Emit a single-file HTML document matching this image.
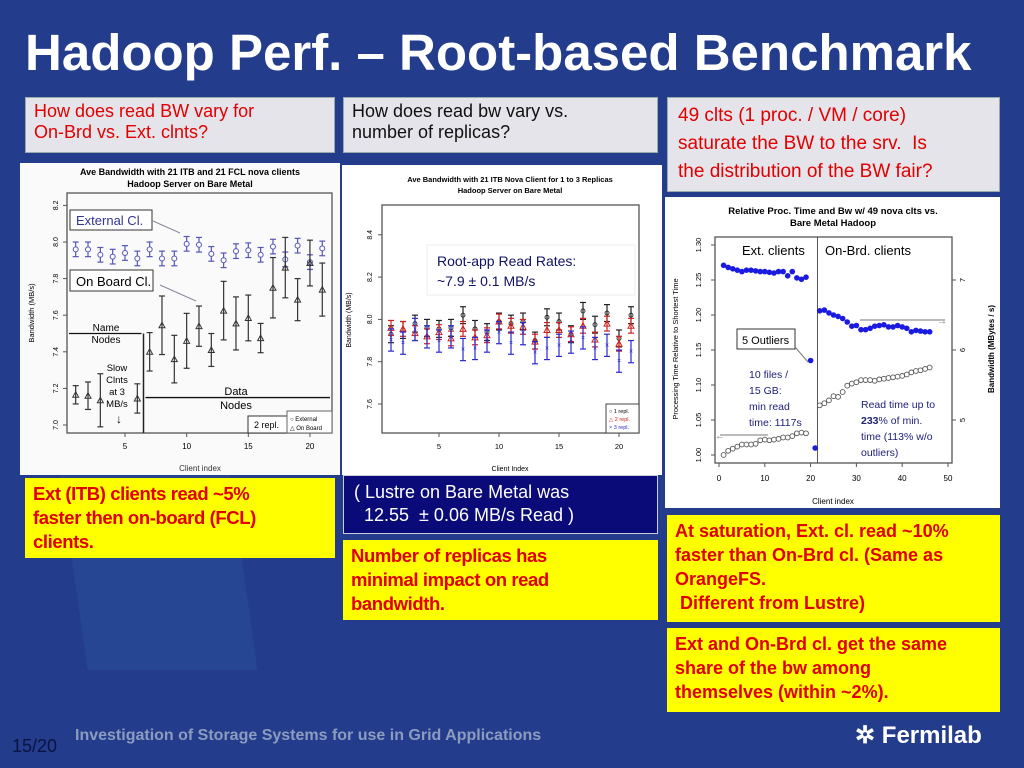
<!DOCTYPE html>
<html><head><meta charset="utf-8">
<style>
*{box-sizing:border-box;margin:0;padding:0}
body{width:1024px;height:768px;overflow:hidden;background:#243c8c;font-family:"Liberation Sans",sans-serif;position:relative}
.abs{position:absolute}
.q{background:#e4e4ea;border:1px solid #9aa;font-size:18px;line-height:21px;padding:3px 8px}
.y{background:#ffff00;color:#e00000;font-weight:bold;font-size:18px;line-height:24px;padding:4px 8px;white-space:nowrap}
.n{letter-spacing:-0.4px;font-size:18.5px}
svg text{font-family:"Liberation Sans",sans-serif}
</style></head><body>
<div class="abs" style="left:70px;top:420px;width:170px;height:250px;background:#2a55a0;opacity:.35;transform:skewX(8deg)"></div>
<div class="abs" style="left:25px;top:24px;color:#fff;font-weight:bold;font-size:51px;line-height:58px;white-space:nowrap">Hadoop Perf. – Root-based Benchmark</div>
<div class="abs q" style="left:25px;top:97px;width:310px;height:56px;color:#e00000">How does read BW vary for<br>On-Brd vs. Ext. clnts?</div>
<div class="abs q" style="left:343px;top:97px;width:315px;height:56px;color:#111">How does read bw vary vs.<br>number of replicas?</div>
<div class="abs q" style="left:667px;top:97px;width:333px;height:95px;color:#e00000;font-size:19px;line-height:28px;padding:4px 10px;white-space:nowrap">49 clts (1 proc. / VM / core)<br>saturate the BW to the srv.&nbsp; Is<br>the distribution of the BW fair?</div>

<svg class="abs" id="c1" style="left:20px;top:163px" width="320" height="312"></svg>
<svg class="abs" id="c2" style="left:342px;top:165px" width="320" height="310"></svg>
<svg class="abs" id="c3" style="left:665px;top:197px" width="335" height="311"></svg>

<div class="abs y n" style="left:25px;top:478px;width:310px;height:80px">Ext (ITB) clients read ~5%<br>faster then on-board (FCL)<br>clients.</div>
<div class="abs" style="left:343px;top:475px;width:315px;height:59px;background:#0a0a78;border:1px solid #ccd;color:#fff;font-size:18px;line-height:23px;padding:5px 10px">( Lustre on Bare Metal was<br>&nbsp;&nbsp;12.55 &nbsp;± 0.06 MB/s Read )</div>
<div class="abs y n" style="left:343px;top:540px;width:315px;height:80px">Number of replicas has<br>minimal impact on read<br>bandwidth.</div>
<div class="abs y" style="left:667px;top:515px;width:333px;height:107px;font-size:18px">At saturation, Ext. cl. read ~10%<br>faster than On-Brd cl. (Same as<br>OrangeFS.<br>&nbsp;Different from Lustre)</div>
<div class="abs y" style="left:667px;top:628px;width:333px;height:84px;font-size:18px">Ext and On-Brd cl. get the same<br>share of the bw among<br>themselves (within ~2%).</div>

<div class="abs" style="left:12px;top:736px;color:#0a1440;font-size:18px">15/20</div>
<div class="abs" style="left:75px;top:727px;color:#8c9cc0;font-weight:bold;font-size:16px">Investigation of Storage Systems for use in Grid Applications</div>
<div class="abs" style="left:855px;top:721px;color:#fff;font-weight:bold;font-size:24px">✲ Fermilab</div>

<script>
const NS="http://www.w3.org/2000/svg";
function mk(p,t,a,txt){const e=document.createElementNS(NS,t);for(const k in a)e.setAttribute(k,a[k]);if(txt!==undefined)e.textContent=txt;p.appendChild(e);return e;}

/* ---------- Chart 1 data ---------- */
const c1Clients=[1,2,3,4,5,6,7,8,9,10,11,12,13,14,15,16,17,18,19,20,21];
const c1External=[7.96,7.96,7.93,7.92,7.94,7.91,7.96,7.91,7.91,7.99,7.985,7.935,7.90,7.95,7.955,7.93,7.975,7.905,7.98,7.89,7.965];
const c1OnBoard=[7.165,7.16,7.135,null,null,7.145,7.40,7.545,7.36,7.46,7.54,7.41,7.625,7.555,7.585,7.475,7.75,7.86,7.685,7.885,7.74];
const c1OnBoardErr=[0.05,0.075,0.145,0,0,0.08,0.105,0.16,0.13,0.15,0.11,0.09,0.16,0.145,0.125,0.08,0.165,0.165,0.115,0.125,0.145];
const c1YTicks=[7.0,7.2,7.4,7.6,7.8,8.0,8.2];
const c1XTicks=[5,10,15,20];

/* ---------- Chart 2 data ---------- */
const c2Clients=[1,2,3,4,5,6,7,8,9,10,11,12,13,14,15,16,17,18,19,20,21];
const c2Repl1=[7.93,7.95,7.98,7.96,7.955,7.96,8.02,7.955,7.94,7.99,7.98,7.99,7.90,8.01,7.99,7.93,8.04,7.975,8.03,7.91,8.02];
const c2Repl2=[7.96,7.955,7.935,7.92,7.94,7.91,7.955,7.915,7.925,7.99,7.97,7.965,7.895,7.95,7.95,7.93,7.97,7.905,7.98,7.885,7.97];
const c2Repl3=[7.905,7.89,7.955,7.92,7.90,7.92,7.86,7.865,7.90,7.94,7.89,7.935,7.845,7.865,7.88,7.895,7.915,7.865,7.88,7.805,7.85];
const c2YTicks=[7.6,7.8,8.0,8.2,8.4];
const c2XTicks=[5,10,15,20];

/* ---------- Chart 3 data ---------- */
const c3ClientsA=[1,2,3,4,5,6,7,8,9,10,11,12,13,14,15,16,17,18,19];
const c3TimeA=[1.000,1.006,1.009,1.012,1.015,1.015,1.015,1.016,1.021,1.022,1.021,1.022,1.023,1.025,1.025,1.027,1.031,1.032,1.031];
const c3ClientsB=[22,23,24,25,26,27,28,29,30,31,32,33,34,35,36,37,38,39,40,41,42,43,44,45,46];
const c3TimeB=[1.071,1.074,1.078,1.084,1.083,1.090,1.099,1.102,1.104,1.107,1.107,1.107,1.106,1.108,1.109,1.110,1.111,1.112,1.113,1.115,1.118,1.120,1.121,1.123,1.125];
const c3BwClients=[1,2,3,4,5,6,7,8,9,10,11,12,13,14,15,16,17,18,19,20,21,22,23,24,25,26,27,28,29,30,31,32,33,34,35,36,37,38,39,40,41,42,43,44,45,46];
const c3Bw=[7.21,7.18,7.16,7.14,7.12,7.14,7.14,7.13,7.12,7.12,7.11,7.10,7.12,7.12,7.06,7.12,7.03,7.01,7.04,5.85,4.60,6.56,6.57,6.53,6.50,6.48,6.45,6.40,6.34,6.35,6.29,6.29,6.31,6.34,6.35,6.36,6.33,6.33,6.35,6.33,6.31,6.26,6.28,6.27,6.26,6.26];
const c3YTicks=[1.00,1.05,1.10,1.15,1.20,1.25,1.30];
const c3BwTicks=[5,6,7];
const c3XTicks=[0,10,20,30,40,50];

function frame(s,x0,y0,x1,y1,bg){mk(s,'rect',{x:0,y:0,width:s.getAttribute('width'),height:s.getAttribute('height'),fill:bg||'#fff'});
 const r=mk(s,'rect',{x:x0,y:y0,width:x1-x0,height:y1-y0,fill:'none',stroke:'#555','stroke-width':1.3});}
function tri(s,x,y,c){return mk(s,'path',{d:`M${x-3},${y+2.5}L${x},${y-3}L${x+3},${y+2.5}Z`,fill:'none',stroke:c,'stroke-width':1});}
function errbar(s,x,lo,hi,c,w){mk(s,'line',{x1:x,x2:x,y1:lo,y2:hi,stroke:c,'stroke-width':1.2});mk(s,'line',{x1:x-w,x2:x+w,y1:lo,y2:lo,stroke:c,'stroke-width':1.2});mk(s,'line',{x1:x-w,x2:x+w,y1:hi,y2:hi,stroke:c,'stroke-width':1.2});}

/* Chart 1 */
(function(){const s=document.getElementById('c1');
const X=v=>125+(v-5)*12.33, Y=v=>425-(v-7.0)*183;
frame(s,47,30,312,270,'#fafafa');
mk(s,'text',{x:170,y:12,'font-size':9,'font-weight':'bold','text-anchor':'middle'},'Ave Bandwidth with 21 ITB and 21 FCL nova clients');
mk(s,'text',{x:170,y:24,'font-size':9,'font-weight':'bold','text-anchor':'middle'},'Hadoop Server on Bare Metal');
c1YTicks.forEach(t=>{const y=Y(t)-163;const l=mk(s,'line',{x1:43,x2:47,y1:y,y2:y,stroke:'#555'});
 const tx=mk(s,'text',{x:38,y:y,'font-size':7,'text-anchor':'middle',transform:`rotate(-90 38 ${y})`},t.toFixed(1));});
c1XTicks.forEach(t=>{const x=X(t)-20;mk(s,'line',{x1:x,x2:x,y1:270,y2:274,stroke:'#555'});const tx=mk(s,'text',{x:x,y:286,'font-size':8,'text-anchor':'middle'},t);});
const xl=mk(s,'text',{x:180,y:308,'font-size':8,'text-anchor':'middle',fill:'#333'},'Client index');
const yl=mk(s,'text',{x:14,y:150,'font-size':7.5,'text-anchor':'middle',transform:'rotate(-90 14 150)'},'Bandwidth (MB/s)');
c1Clients.forEach((c,i)=>{const x=X(c)-20;
 const v=c1External[i];errbar(s,x,Y(v-0.04)-163,Y(v+0.04)-163,'#5555bb',3);
 const p=mk(s,'circle',{cx:x,cy:Y(v)-163,r:2.5,fill:'#fafafa',stroke:'#5555bb','stroke-width':1});
 const o=c1OnBoard[i];if(o!==null){const e=c1OnBoardErr[i];errbar(s,x,Y(o-e)-163,Y(o+e)-163,'#333',3);const t=tri(s,x,Y(o)-163,'#333');}});
mk(s,'line',{x1:(X(6.5)-20),x2:(X(6.5)-20),y1:Y(7.5)-163,y2:270,stroke:'#222','stroke-width':1.5});
mk(s,'line',{x1:49,x2:X(6.5)-22,y1:Y(7.5)-163,y2:Y(7.5)-163,stroke:'#111','stroke-width':1.3});
mk(s,'line',{x1:X(6.5)-18,x2:310,y1:Y(7.15)-163,y2:Y(7.15)-163,stroke:'#111','stroke-width':1.3});
mk(s,'rect',{x:50,y:47,width:82,height:20,fill:'#fff',stroke:'#333'});mk(s,'text',{x:56,y:62,'font-size':13,fill:'#33339a'},'External Cl.');
mk(s,'rect',{x:50,y:107,width:83,height:21,fill:'#fff',stroke:'#333'});mk(s,'text',{x:56,y:123,'font-size':13},'On Board Cl.');
mk(s,'line',{x1:133,y1:58,x2:160,y2:70,stroke:'#889'});mk(s,'line',{x1:140,y1:122,x2:176,y2:138,stroke:'#889'});
[['Name',168],['Nodes',180]].forEach(a=>mk(s,'text',{x:86,y:a[1],'font-size':10,'text-anchor':'middle'},a[0]));
[['Slow',208],['Clnts',220],['at 3',232],['MB/s',244]].forEach(a=>mk(s,'text',{x:97,y:a[1],'font-size':9.5,'text-anchor':'middle'},a[0]));
mk(s,'text',{x:99,y:260,'font-size':12,'text-anchor':'middle'},'↓');
[['Data',232],['Nodes',246]].forEach(a=>mk(s,'text',{x:216,y:a[1],'font-size':11,'text-anchor':'middle'},a[0]));
mk(s,'rect',{x:228,y:253,width:39,height:17,fill:'#fff',stroke:'#333'});mk(s,'text',{x:234,y:265,'font-size':9},'2 repl.');
mk(s,'rect',{x:267,y:248,width:45,height:22,fill:'#fff',stroke:'#666'});mk(s,'text',{x:270,y:258,'font-size':6},'○ External');mk(s,'text',{x:270,y:267,'font-size':6},'△ On Board');
})();

/* Chart 2 */
(function(){const s=document.getElementById('c2');
const X=v=>439+(v-5)*12-342, Y=v=>404-(v-7.6)*211.5-165;
frame(s,40,40,297,268);
mk(s,'text',{x:168,y:17,'font-size':7.5,'font-weight':'bold','text-anchor':'middle'},'Ave Bandwidth with 21 ITB Nova Client for 1 to 3 Replicas');
mk(s,'text',{x:168,y:28,'font-size':7.5,'font-weight':'bold','text-anchor':'middle'},'Hadoop Server on Bare Metal');
c2YTicks.forEach(t=>{const y=Y(t);mk(s,'line',{x1:36,x2:40,y1:y,y2:y,stroke:'#555'});const tx=mk(s,'text',{x:30,y:y,'font-size':7,'text-anchor':'middle',transform:`rotate(-90 30 ${y})`},t.toFixed(1));});
c2XTicks.forEach(t=>{const x=X(t);mk(s,'line',{x1:x,x2:x,y1:268,y2:272,stroke:'#555'});const tx=mk(s,'text',{x:x,y:284,'font-size':7.5,'text-anchor':'middle'},t);});
const xl=mk(s,'text',{x:168,y:306,'font-size':7,'text-anchor':'middle'},'Client Index');
const yl=mk(s,'text',{x:9,y:155,'font-size':7,'text-anchor':'middle',transform:'rotate(-90 9 155)'},'Bandwidth (MB/s)');
c2Clients.forEach((c,i)=>{const x=X(c);
 let v=c2Repl1[i];errbar(s,x,Y(v-0.04),Y(v+0.04),'#222',3);const p1=mk(s,'circle',{cx:x,cy:Y(v),r:2,fill:'none',stroke:'#222','stroke-width':0.9});
 v=c2Repl2[i];errbar(s,x,Y(v-0.035),Y(v+0.035),'#d02020',3);const p2=tri(s,x,Y(v),'#d02020');
 v=c2Repl3[i];errbar(s,x,Y(v-0.055),Y(v+0.05),'#2a2ad0',3);const p3=mk(s,'text',{x:x,y:Y(v)+2.5,'font-size':7,fill:'#2a2ad0','text-anchor':'middle'},'×');});
const ann=mk(s,'rect',{x:85,y:80,width:208,height:50,fill:'#fff',stroke:'#eee'});
mk(s,'text',{x:95,y:101,'font-size':14,fill:'#111166'},'Root-app Read Rates:');mk(s,'text',{x:95,y:121,'font-size':14,fill:'#111166'},'~7.9 ± 0.1 MB/s');
const lg=mk(s,'rect',{x:264,y:239,width:33,height:29,fill:'#fff',stroke:'#444'});
mk(s,'text',{x:267,y:248,'font-size':5.5},'○ 1 repl.');mk(s,'text',{x:267,y:256,'font-size':5.5,fill:'#d02020'},'△ 2 repl.');mk(s,'text',{x:267,y:264,'font-size':5.5,fill:'#2a2ad0'},'× 3 repl.');
})();

/* Chart 3 */
(function(){const s=document.getElementById('c3');
const X=v=>719+v*4.58-665, Y=v=>455-(v-1.0)*700-197, YB=v=>280+(7-v)*70-197;
frame(s,50,40,287,266);
mk(s,'text',{x:168,y:17,'font-size':9.5,'font-weight':'bold','text-anchor':'middle'},'Relative Proc. Time and Bw w/ 49 nova clts vs.');
mk(s,'text',{x:168,y:29,'font-size':9.5,'font-weight':'bold','text-anchor':'middle'},'Bare Metal Hadoop');
c3YTicks.forEach(t=>{const y=Y(t);mk(s,'line',{x1:46,x2:50,y1:y,y2:y,stroke:'#555'});const tx=mk(s,'text',{x:36,y:y,'font-size':7.5,'text-anchor':'middle',transform:`rotate(-90 36 ${y})`},t.toFixed(2));});
c3BwTicks.forEach(t=>{const y=YB(t);mk(s,'line',{x1:287,x2:291,y1:y,y2:y,stroke:'#555'});const tx=mk(s,'text',{x:300,y:y,'font-size':7.5,'text-anchor':'middle',transform:`rotate(-90 300 ${y})`},t);});
c3XTicks.forEach(t=>{const x=X(t);mk(s,'line',{x1:x,x2:x,y1:266,y2:270,stroke:'#555'});const tx=mk(s,'text',{x:x,y:284,'font-size':8,'text-anchor':'middle'},t);});
const xl=mk(s,'text',{x:168,y:307,'font-size':8,'text-anchor':'middle'},'Client index');
const yl=mk(s,'text',{x:13,y:152,'font-size':7.5,'text-anchor':'middle',transform:'rotate(-90 13 152)'},'Processing Time Relative to Shortest Time');
const y2=mk(s,'text',{x:329,y:152,'font-size':8,'font-weight':'bold','text-anchor':'middle',transform:'rotate(-90 329 152)'},'Bandwidth (MBytes / s)');
mk(s,'line',{x1:X(21.5),x2:X(21.5),y1:40,y2:266,stroke:'#555'});
c3ClientsA.forEach((c,i)=>{const p=mk(s,'circle',{cx:X(c),cy:Y(c3TimeA[i]),r:2.4,fill:'#fff',stroke:'#555','stroke-width':0.9});});
c3ClientsB.forEach((c,i)=>{const p=mk(s,'circle',{cx:X(c),cy:Y(c3TimeB[i]),r:2.4,fill:'#fff',stroke:'#555','stroke-width':0.9});});
c3BwClients.forEach((c,i)=>{const p=mk(s,'circle',{cx:X(c),cy:YB(c3Bw[i]),r:2.8,fill:'#1a1ae0'});});
mk(s,'text',{x:77,y:58,'font-size':13},'Ext. clients');mk(s,'text',{x:160,y:58,'font-size':13},'On-Brd. clients');
mk(s,'rect',{x:72,y:132,width:58,height:20,fill:'#fff',stroke:'#333'});mk(s,'text',{x:77,y:147,'font-size':11},'5 Outliers');
mk(s,'line',{x1:130,y1:150,x2:143,y2:165,stroke:'#777'});
mk(s,'line',{x1:195,y1:123,x2:280,y2:123,stroke:'#777'});mk(s,'text',{x:272,y:127,'font-size':10,fill:'#777'},'→');
mk(s,'line',{x1:55,y1:238,x2:103,y2:238,stroke:'#777'});mk(s,'text',{x:50,y:242,'font-size':10,fill:'#777'},'←');
[['10 files /',181],['15 GB:',197],['min read',213],['time: 1117s',229]].forEach(a=>mk(s,'text',{x:84,y:a[1],'font-size':10.5,fill:'#20207a'},a[0]));
mk(s,'text',{x:196,y:211,'font-size':10.5,fill:'#20207a'},'Read time up to');
const t2=mk(s,'text',{x:196,y:227,'font-size':10.5,fill:'#20207a'});t2.innerHTML='<tspan font-weight="bold">233</tspan>% of min.';
mk(s,'text',{x:196,y:243,'font-size':10.5,fill:'#20207a'},'time (113% w/o');mk(s,'text',{x:196,y:259,'font-size':10.5,fill:'#20207a'},'outliers)');
})();
</script>
</body></html>
